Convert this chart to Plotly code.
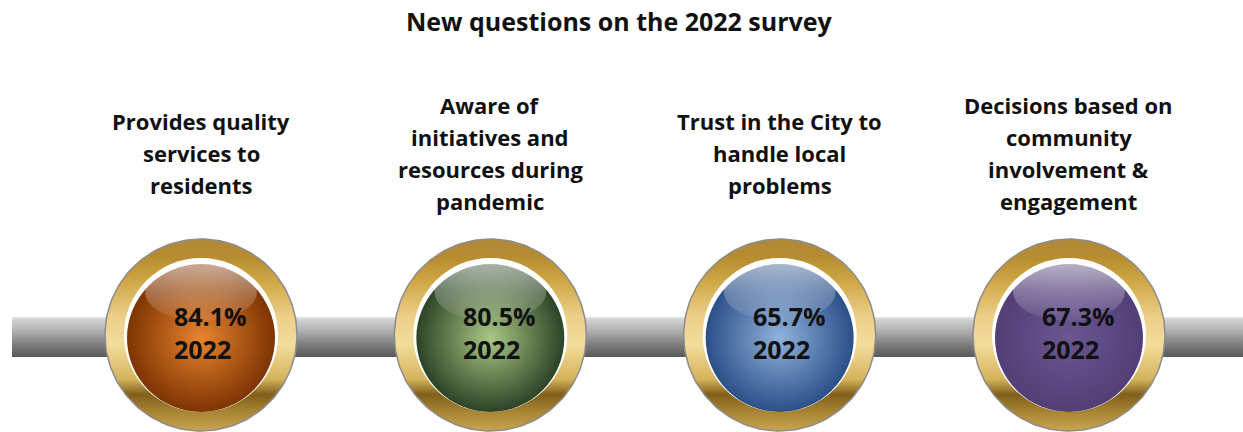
import numpy as np
import plotly.graph_objects as go

# ---- data ----
title_text = "New questions on the 2022 survey"
categories = [
    "Provides quality<br>services to<br>residents",
    "Aware of<br>initiatives and<br>resources during<br>pandemic",
    "Trust in the City to<br>handle local<br>problems",
    "Decisions based on<br>community<br>involvement &<br>engagement",
]
values = [84.1, 80.5, 65.7, 67.3]
years = ["2022", "2022", "2022", "2022"]
edge_colors = ["#7e3402", "#2c4427", "#2b5088", "#523f78"]
center_colors = ["#e8842f", "#aac784", "#90b2dc", "#6a5791"]

# ---- layout constants (pixel geometry) ----
W, H = 1243, 432
PX = 289.33                      # pixels per category step
X_RANGE = [-201 / PX, (W - 201) / PX]
Y_RANGE = [-97, 335]             # y units == pixels, circle centre at 0
R_RING = 96
R_WHITE = 77
R_BALL = 74
FONT = "Open Sans"
LABEL_MID = 335 - 153            # label block centre (y units)
LINE_GAP = 32

idx = list(range(len(categories)))
theta = np.linspace(0, 2 * np.pi, 181)

def ellipse_path(cx_list, cy, rx_px, ry_px):
    xs, ys = [], []
    for c in cx_list:
        xs += list(c + rx_px * np.cos(theta) / PX) + [None]
        ys += list(cy + ry_px * np.sin(theta)) + [None]
    return xs, ys

fig = go.Figure()

# connector bar
bx0 = idx[0] + X_RANGE[0] + 12 / PX
bx1 = idx[-1] + 1.0
fig.add_trace(go.Scatter(
    x=[bx0, bx1, bx1, bx0, bx0], y=[18, 18, -22, -22, 18],
    mode="lines", line=dict(width=0), fill="toself",
    fillgradient=dict(type="vertical", colorscale=[
        [0, "#595959"], [0.3, "#7c7c7c"], [0.65, "#b0b0b0"], [0.92, "#cfcfcf"], [1, "#e4e4e4"]]),
    hoverinfo="skip", showlegend=False))

# gold rings
rx, ry = ellipse_path(idx, 0, R_RING, R_RING)
fig.add_trace(go.Scatter(
    x=rx, y=ry, mode="lines", line=dict(color="#8c8c8c", width=1.5), fill="toself",
    fillgradient=dict(type="vertical", colorscale=[
        [0, "#c9a450"], [0.1, "#a88434"], [0.19, "#80601a"], [0.27, "#d4b45c"],
        [0.45, "#f3dd9c"], [0.6, "#ecce88"], [0.78, "#cfa745"], [0.9, "#b88d30"], [1, "#b08838"]]),
    hoverinfo="skip", showlegend=False))

# white ring
fig.add_trace(go.Scatter(
    x=idx, y=[0] * len(idx), mode="markers",
    marker=dict(size=2 * R_WHITE, color="white", line=dict(width=0)),
    hoverinfo="skip", showlegend=False))

# spheres
fig.add_trace(go.Scatter(
    x=idx, y=[-3] * len(idx), mode="markers",
    marker=dict(size=2 * R_BALL, color=edge_colors, line=dict(width=0),
                gradient=dict(type="radial", color=center_colors)),
    hoverinfo="skip", showlegend=False))

# glossy highlights
hx, hy = ellipse_path(idx, 43, 56, 29)
fig.add_trace(go.Scatter(
    x=hx, y=hy, mode="lines", line=dict(width=0), fill="toself",
    fillgradient=dict(type="vertical", colorscale=[
        [0, "rgba(255,255,255,0.05)"], [0.5, "rgba(255,255,255,0.28)"], [1, "rgba(255,255,255,0.6)"]]),
    hoverinfo="skip", showlegend=False))

annotations = []
# title
annotations.append(dict(
    text=title_text, x=619 / W, y=1 - 21 / H, xref="paper", yref="paper",
    xanchor="center", yanchor="middle", showarrow=False,
    font=dict(family=FONT, size=25, color="#111111", weight="bold")))
# labels and values
for i, cat, v, yr in zip(idx, categories, values, years):
    lines = cat.split("<br>")
    n = len(lines)
    for k, ln in enumerate(lines):
        annotations.append(dict(
            text=ln, x=i, y=LABEL_MID + ((n - 1) / 2 - k) * LINE_GAP, xref="x", yref="y",
            xanchor="center", yanchor="middle", showarrow=False,
            font=dict(family=FONT, size=22, color="#111111", weight="bold")))
    annotations.append(dict(
        text=f"{v:.1f}%<br>{yr}", x=i, y=0, xref="x", yref="y",
        xanchor="left", yanchor="middle", xshift=-29, yshift=3,
        showarrow=False, align="left",
        font=dict(family=FONT, size=25, color="#111111", weight="bold")))

fig.update_layout(
    width=W, height=H, margin=dict(l=0, r=0, t=0, b=0),
    paper_bgcolor="white", plot_bgcolor="white",
    xaxis=dict(range=X_RANGE, visible=False, fixedrange=True),
    yaxis=dict(range=Y_RANGE, visible=False, fixedrange=True),
    annotations=annotations, hovermode=False, showlegend=False)

fig.write_html("out.html", config={"displayModeBar": False},
               post_script="document.body.style.margin='0';")
